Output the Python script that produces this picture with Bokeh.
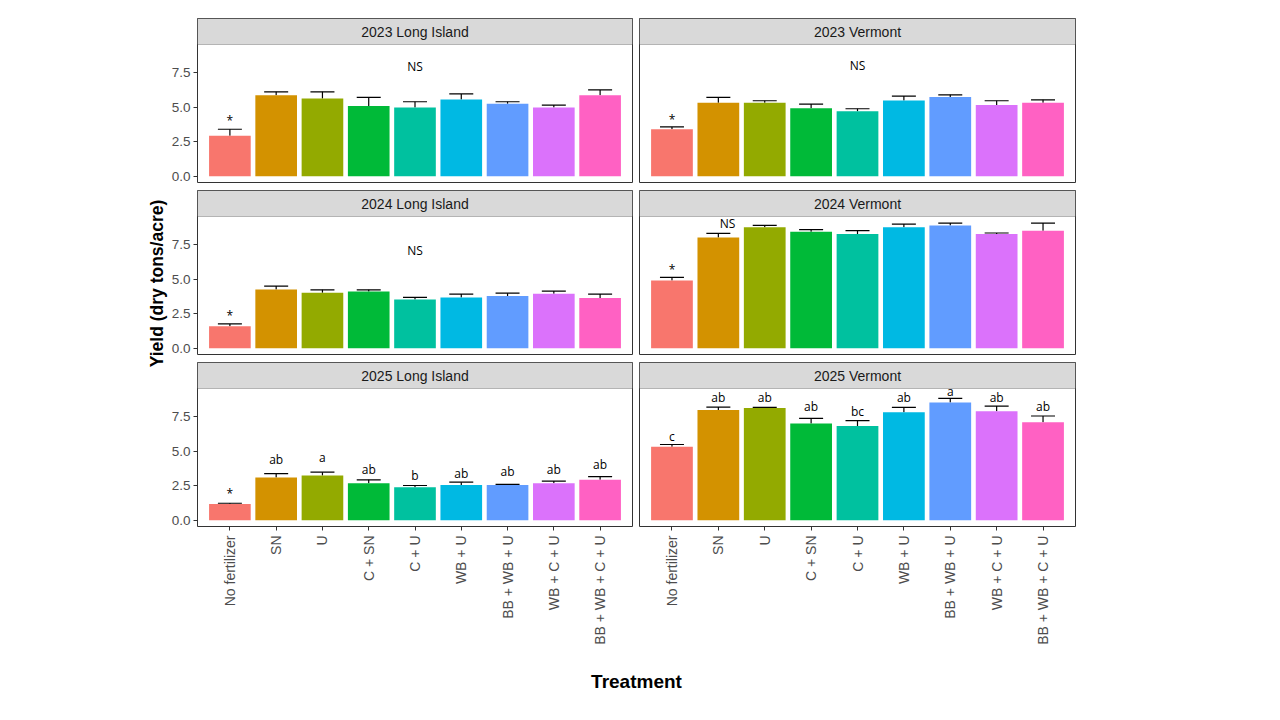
import math
from bokeh.plotting import figure
from bokeh.layouts import column, row
from bokeh.models import (ColumnDataSource, Range1d, FactorRange, FixedTicker,
                          PrintfTickFormatter, Whisker, TeeHead, BoxAnnotation)
from bokeh.transform import dodge
from bokeh.core.properties import value
from bokeh.embed import file_html
from bokeh.resources import INLINE

# ---------------- data ----------------
treatments = ["No fertilizer", "SN", "U", "C + SN", "C + U", "WB + U",
              "BB + WB + U", "WB + C + U", "BB + WB + C + U"]
bar_colors = ["#F8766D", "#D39200", "#93AA00", "#00BA38", "#00C19F",
              "#00B9E3", "#619CFF", "#DB72FB", "#FF61C3"]
panel_titles = ["2023 Long Island", "2023 Vermont", "2024 Long Island",
                "2024 Vermont", "2025 Long Island", "2025 Vermont"]
y_ticks = [0.0, 2.5, 5.0, 7.5]
y_title = "Yield (dry tons/acre)"
x_title = "Treatment"

mean_2023_li = [2.93, 5.89, 5.65, 5.10, 5.00, 5.58, 5.26, 5.00, 5.89]
upper_2023_li = [3.41, 6.13, 6.13, 5.72, 5.41, 5.98, 5.41, 5.17, 6.27]
mean_2023_vt = [3.41, 5.34, 5.34, 4.93, 4.71, 5.50, 5.75, 5.17, 5.34]
upper_2023_vt = [3.58, 5.72, 5.48, 5.24, 4.90, 5.82, 5.91, 5.48, 5.55]
mean_2024_li = [1.59, 4.27, 4.03, 4.12, 3.54, 3.69, 3.79, 3.95, 3.64]
upper_2024_li = [1.76, 4.51, 4.24, 4.24, 3.69, 3.93, 4.00, 4.15, 3.93]
mean_2024_vt = [4.92, 8.05, 8.78, 8.46, 8.30, 8.78, 8.92, 8.30, 8.54]
upper_2024_vt = [5.14, 8.34, 8.92, 8.61, 8.54, 9.02, 9.09, 8.37, 9.09]
mean_2025_li = [1.18, 3.10, 3.25, 2.69, 2.40, 2.55, 2.55, 2.69, 2.93]
upper_2025_li = [1.23, 3.39, 3.49, 2.93, 2.52, 2.76, 2.60, 2.84, 3.17]
mean_2025_vt = [5.34, 8.00, 8.15, 7.02, 6.85, 7.84, 8.56, 7.91, 7.12]
upper_2025_vt = [5.50, 8.22, 8.20, 7.40, 7.24, 8.20, 8.85, 8.29, 7.57]

# significance labels: category, y (baseline), text
lab_cat_2023_li = ["No fertilizer", "C + U"]
lab_y_2023_li = [3.75, 7.67]
lab_txt_2023_li = ["*", "NS"]
lab_cat_2023_vt = ["No fertilizer", "C + U"]
lab_y_2023_vt = [3.82, 7.76]
lab_txt_2023_vt = ["*", "NS"]
lab_cat_2024_li = ["No fertilizer", "C + U"]
lab_y_2024_li = [2.10, 6.78]
lab_txt_2024_li = ["*", "NS"]
lab_cat_2024_vt = ["No fertilizer"]
lab_y_2024_vt = [5.43]
lab_txt_2024_vt = ["*"]
ns_cat_2024_vt = ["SN"]
ns_y_2024_vt = [8.80]
ns_txt_2024_vt = ["NS"]
lab_cat_2025_li = treatments
lab_y_2025_li = [1.63, 4.09, 4.25, 3.41, 2.98, 3.10, 3.22, 3.41, 3.73]
lab_txt_2025_li = ["*", "ab", "a", "ab", "b", "ab", "ab", "ab", "ab"]
lab_cat_2025_vt = treatments
lab_y_2025_vt = [5.82, 8.61, 8.61, 7.96, 7.62, 8.61, 9.05, 8.61, 7.96]
lab_txt_2025_vt = ["c", "ab", "ab", "ab", "bc", "ab", "a", "ab", "ab"]

# ---------------- layout constants ----------------
YT_W = 168          # width of the y-title canvas at the far left
LEFT_PAD = 29       # room for the y tick labels
FRAME_W_L = 435
FRAME_W_R = 436
GAP_L = 1
GAP_R = 6
RIGHT_PAD = 10
STRIP_H = 26
PANEL_H = 138
BOTTOM_AXIS = 130
TOP_PAD = 18
ROW_GAP = 7
Y_MIN, Y_MAX = -0.46, 9.57
PX_PER_UNIT = PANEL_H / (Y_MAX - Y_MIN)
Y_END = Y_MAX + STRIP_H / PX_PER_UNIT
STRIP_MID = Y_MAX + STRIP_H / 2 / PX_PER_UNIT

BORDER = "#333333"
TICK_TXT = "#4D4D4D"
STRIP_TXT = "#1A1A1A"
AX_FONT = "Liberation Sans"
LAB_FONT = "Open Sans"


def base_fig(width, height, left, right, top, bottom, **kw):
    p = figure(width=width, height=height, toolbar_location=None,
               output_backend="svg", min_border_left=left,
               min_border_right=right, min_border_top=top,
               min_border_bottom=bottom, title=None, **kw)
    p.grid.grid_line_color = None
    return p


def side_dims(is_left):
    if is_left:
        return LEFT_PAD + FRAME_W_L + GAP_L, LEFT_PAD, GAP_L
    return GAP_R + FRAME_W_R + RIGHT_PAD, GAP_R, RIGHT_PAD


def add_labels(p, cats, ys, txts, dx=0.0):
    src = ColumnDataSource(dict(cat=cats, y=ys, txt=txts))
    xs = dodge("cat", dx, range=p.x_range) if dx else "cat"
    p.text(x=xs, y="y", text="txt", source=src, text_align="center",
           text_baseline="alphabetic", y_offset=-4,
           text_font=value(LAB_FONT), text_font_size=value("12px"),
           text_color="black")


def make_panel(title, means, uppers, lab_cats, lab_ys, lab_txts, is_left,
               top, is_bottom, extra=None):
    w, l, r = side_dims(is_left)
    bottom = BOTTOM_AXIS if is_bottom else 1
    p = base_fig(w, top + STRIP_H + PANEL_H + bottom, l, r, top, bottom,
                 x_range=FactorRange(factors=treatments, range_padding=0.2,
                                     range_padding_units="absolute"),
                 y_range=Range1d(Y_MIN, Y_END),
                 x_axis_location="below" if is_bottom else None,
                 y_axis_location="left" if is_left else None)
    p.background_fill_color = "white"
    p.outline_line_color = BORDER
    p.outline_line_width = 1

    # facet strip (grey header) on top of the panel
    strip = BoxAnnotation(bottom=Y_MAX, fill_color="#D9D9D9", fill_alpha=1.0,
                          line_color=BORDER, line_width=1, level="underlay")
    p.add_layout(strip)
    p.text(x=[treatments[len(treatments) // 2]], y=[STRIP_MID], text=[title],
           text_align="center", text_baseline="middle",
           text_font=value(AX_FONT), text_font_size=value("14px"),
           text_color=STRIP_TXT)

    src = ColumnDataSource(dict(cat=treatments, mean=means, upper=uppers,
                                color=bar_colors))
    p.vbar(x="cat", top="mean", bottom=0, width=0.9, fill_color="color",
           line_color=None, source=src)
    wk = Whisker(source=src, base="cat", lower="mean", upper="upper",
                 dimension="height", line_color="black", line_width=1.2,
                 upper_head=TeeHead(size=24, line_color="black", line_width=1.2),
                 lower_head=None)
    p.add_layout(wk)

    add_labels(p, lab_cats, lab_ys, lab_txts)
    if extra is not None:
        add_labels(p, *extra)

    if is_left:
        ax = p.yaxis[0]
        ax.ticker = FixedTicker(ticks=y_ticks)
        ax.formatter = PrintfTickFormatter(format="%.1f")
        ax.axis_line_color = None
        ax.major_tick_line_color = BORDER
        ax.major_tick_out = 4
        ax.major_tick_in = 0
        ax.minor_tick_line_color = None
        ax.major_label_standoff = 3
        ax.major_label_text_font = AX_FONT
        ax.major_label_text_font_size = "13.5px"
        ax.major_label_text_color = TICK_TXT
    if is_bottom:
        ax = p.xaxis[0]
        ax.axis_line_color = None
        ax.major_tick_line_color = BORDER
        ax.major_tick_out = 4
        ax.major_tick_in = 0
        ax.minor_tick_line_color = None
        ax.major_label_orientation = math.pi / 2
        ax.major_label_standoff = 5
        ax.major_label_text_font = AX_FONT
        ax.major_label_text_font_size = "14px"
        ax.major_label_text_color = TICK_TXT
    return p


p1 = make_panel(panel_titles[0], mean_2023_li, upper_2023_li, lab_cat_2023_li,
                lab_y_2023_li, lab_txt_2023_li, True, TOP_PAD, False)
p2 = make_panel(panel_titles[1], mean_2023_vt, upper_2023_vt, lab_cat_2023_vt,
                lab_y_2023_vt, lab_txt_2023_vt, False, TOP_PAD, False)
p3 = make_panel(panel_titles[2], mean_2024_li, upper_2024_li, lab_cat_2024_li,
                lab_y_2024_li, lab_txt_2024_li, True, ROW_GAP, False)
p4 = make_panel(panel_titles[3], mean_2024_vt, upper_2024_vt, lab_cat_2024_vt,
                lab_y_2024_vt, lab_txt_2024_vt, False, ROW_GAP, False,
                extra=(ns_cat_2024_vt, ns_y_2024_vt, ns_txt_2024_vt, 0.2))
p5 = make_panel(panel_titles[4], mean_2025_li, upper_2025_li, lab_cat_2025_li,
                lab_y_2025_li, lab_txt_2025_li, True, ROW_GAP, True)
p6 = make_panel(panel_titles[5], mean_2025_vt, upper_2025_vt, lab_cat_2025_vt,
                lab_y_2025_vt, lab_txt_2025_vt, False, ROW_GAP, True)

grid_w = LEFT_PAD + FRAME_W_L + GAP_L + GAP_R + FRAME_W_R + RIGHT_PAD
frames_w = FRAME_W_L + GAP_L + GAP_R + FRAME_W_R
tfig = base_fig(grid_w, 50, LEFT_PAD, grid_w - LEFT_PAD - frames_w, 0, 0,
                x_range=Range1d(0, 1), y_range=Range1d(0, 1),
                x_axis_location=None, y_axis_location=None)
tfig.outline_line_color = None
tfig.text(x=[0.5], y=[0.5], text=[x_title], text_align="center",
          text_baseline="middle", text_font=value(AX_FONT),
          text_font_style="bold", text_font_size=value("19px"),
          text_color="black")

# y-axis title: a narrow canvas at the far left, centred on the middle row
yfig = base_fig(YT_W, 566, 0, 0, 0, 0,
                x_range=Range1d(0, YT_W), y_range=Range1d(0, 1),
                x_axis_location=None, y_axis_location=None)
yfig.outline_line_color = None
yfig.text(x=[156], y=[0.5], text=[y_title], angle=math.pi / 2,
          text_align="center", text_baseline="middle",
          text_font=value(AX_FONT), text_font_style="bold",
          text_font_size=value("17.5px"), text_color="black")

grid = column(row(p1, p2), row(p3, p4), row(p5, p6), tfig)
layout = row(yfig, grid)

open("out.html", "w").write(file_html(layout, INLINE))
